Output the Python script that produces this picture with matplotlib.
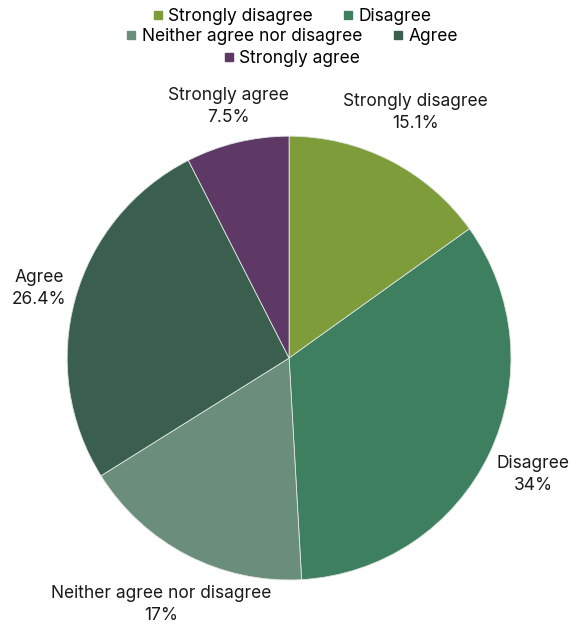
import numpy as np
import matplotlib.pyplot as plt
from matplotlib.lines import Line2D

plt.rcParams['font.family'] = ['Inter', 'DejaVu Sans']

categories = ["Strongly disagree", "Disagree", "Neither agree nor disagree", "Agree", "Strongly agree"]
shares = [15.1, 34, 17, 26.4, 7.5]
share_labels = ["15.1%", "34%", "17%", "26.4%", "7.5%"]
colors = ["#7f9c3b", "#3e7f5f", "#6a8d7c", "#3b5f4e", "#5e3966"]

fig = plt.figure(figsize=(5.84, 6.26), dpi=100)
ax = fig.add_axes([0.495 - 0.380, 0.428 - 0.3546, 0.760, 0.7092])

wedges, _ = ax.pie(shares, colors=colors, startangle=90, counterclock=False,
                   wedgeprops=dict(edgecolor="#dfe6e2", linewidth=0.6))
ax.set_xlim(-1, 1)
ax.set_ylim(-1, 1)
ax.set_aspect("equal")

# category name and share outside each slice
label_r = [1.243, 1.22, 1.25, 1.17, 1.167]
for w, name, lab, r in zip(wedges, categories, share_labels, label_r):
    mid = np.deg2rad((w.theta1 + w.theta2) / 2)
    ax.text(r * np.cos(mid), r * np.sin(mid), name + "\n" + lab,
            ha="center", va="center", fontsize=12.5, color="#1a1a1a",
            linespacing=1.4, clip_on=False)

# legend rows: 2 + 2 + 1, each centred
rows = [[0, 1], [2, 3], [4]]
row_y = [0.974, 0.941, 0.907]
for idx, y in zip(rows, row_y):
    handles = [Line2D([], [], marker="s", linestyle="", markersize=6,
                      color=colors[i]) for i in idx]
    fig.legend(handles, [categories[i] for i in idx], loc="center",
               bbox_to_anchor=(0.5, y), ncol=len(idx), frameon=False,
               fontsize=12.5, handlelength=0.6, handletextpad=0.3,
               columnspacing=1.75, borderpad=0)

fig.savefig("out.png", dpi=100)
